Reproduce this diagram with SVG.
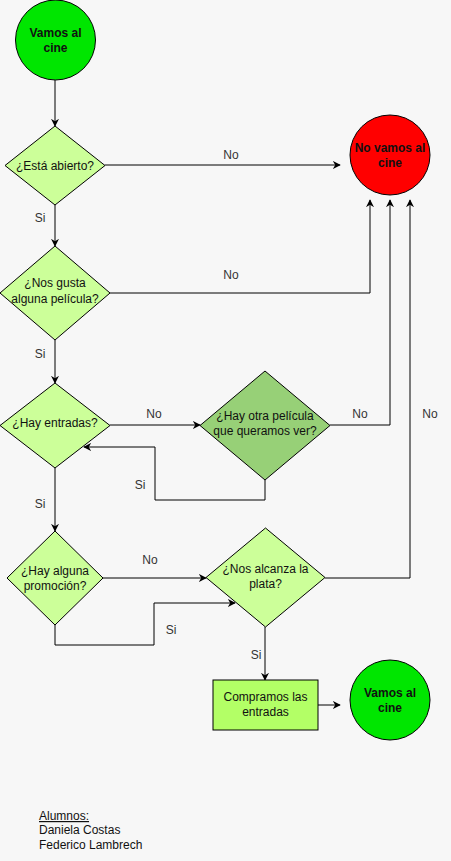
<svg xmlns="http://www.w3.org/2000/svg" width="451" height="861" viewBox="0 0 451 861">
  <style>
    .node { stroke: #000; stroke-width: 1; }
    .t { font-family: "Liberation Sans", Arial, sans-serif; font-size: 12px; fill: #111; text-anchor: middle; }
    .b { font-weight: bold; }
    .lbl { font-family: "Liberation Sans", Arial, sans-serif; font-size: 12px; fill: #333; text-anchor: middle; }
    .edge { fill: none; stroke: #000; stroke-width: 1; marker-end: url(#arrow); }
    .plain { fill: none; stroke: #000; stroke-width: 1; }
    .note { font-family: "Liberation Sans", Arial, sans-serif; font-size: 12px; fill: #111; }
  </style>
  <defs>
    <marker id="arrow" viewBox="0 0 10 10" refX="9" refY="5" markerWidth="8" markerHeight="8" markerUnits="userSpaceOnUse" orient="auto">
      <path d="M0,0 L10,5 L0,10 L3,5 Z" fill="#000"/>
    </marker>
  </defs>

  <rect width="451" height="861" fill="#f7f7f7"/>

  <g id="connectors">
    <path class="edge" d="M55,80 L55,126"/>
    <path class="edge" d="M105,165 L340,165"/>
    <text class="lbl" x="231" y="159">No</text>
    <path class="edge" d="M55,205 L55,246"/>
    <text class="lbl" x="40" y="222">Si</text>
    <path class="edge" d="M110,293 L370,293 L370,200"/>
    <text class="lbl" x="231" y="279">No</text>
    <path class="edge" d="M55,340 L55,383"/>
    <text class="lbl" x="40" y="358">Si</text>
    <path class="edge" d="M110,425 L200,425"/>
    <text class="lbl" x="154" y="418">No</text>
    <path class="edge" d="M330,425 L390,425 L390,200"/>
    <text class="lbl" x="360" y="418">No</text>
    <path class="edge" d="M265,480 L265,500 L155,500 L155,447 L84,447"/>
    <text class="lbl" x="140" y="489">Si</text>
    <path class="edge" d="M55,468 L55,531"/>
    <text class="lbl" x="40" y="508">Si</text>
    <path class="edge" d="M103,578 L206,578"/>
    <text class="lbl" x="150" y="564">No</text>
    <path class="edge" d="M55,625 L55,645 L154,645 L154,603 L235,603"/>
    <text class="lbl" x="171" y="634">Si</text>
    <path class="edge" d="M325,578 L410,578 L410,200"/>
    <text class="lbl" x="430" y="418">No</text>
    <path class="edge" d="M265,627 L265,680"/>
    <text class="lbl" x="256" y="659">Si</text>
    <path class="edge" d="M318,705 L340,705"/>
  </g>

  <g id="start">
    <circle class="node" cx="55.5" cy="40" r="40" fill="#00e600"/>
    <text class="t b" x="55.5" y="37">Vamos al</text>
    <text class="t b" x="55.5" y="52">cine</text>
  </g>

  <g id="abierto">
    <polygon class="node" points="55,126 105,165.5 55,205 5,165.5" fill="#ccff99"/>
    <text class="t" x="55" y="169.5">¿Está abierto?</text>
  </g>

  <g id="no-vamos">
    <circle class="node" cx="390" cy="155" r="40" fill="#ff0000"/>
    <text class="t b" x="390" y="152">No vamos al</text>
    <text class="t b" x="390" y="167">cine</text>
  </g>

  <g id="gusta">
    <polygon class="node" points="55,246 110,293 55,340 0,293" fill="#ccff99"/>
    <text class="t" x="55" y="287">¿Nos gusta</text>
    <text class="t" x="55" y="303">alguna película?</text>
  </g>

  <g id="entradas">
    <polygon class="node" points="55,383 110,425.5 55,468 0,425.5" fill="#ccff99"/>
    <text class="t" x="55" y="427">¿Hay entradas?</text>
  </g>

  <g id="otra-pelicula">
    <polygon class="node" points="265,371 330,425.5 265,480 200,425.5" fill="#97d077"/>
    <text class="t" x="265" y="420">¿Hay otra película</text>
    <text class="t" x="265" y="435">que queramos ver?</text>
  </g>

  <g id="promocion">
    <polygon class="node" points="55,531 103,578 55,625 7,578" fill="#ccff99"/>
    <text class="t" x="55" y="575">¿Hay alguna</text>
    <text class="t" x="55" y="590">promoción?</text>
  </g>

  <g id="plata">
    <polygon class="node" points="265.5,528 325,577.5 265.5,627 206,577.5" fill="#ccff99"/>
    <text class="t" x="265.5" y="573">¿Nos alcanza la</text>
    <text class="t" x="265.5" y="588">plata?</text>
  </g>

  <g id="compramos">
    <rect class="node" x="213" y="680" width="105" height="50" fill="#b3ff66"/>
    <text class="t" x="265.5" y="701">Compramos las</text>
    <text class="t" x="265.5" y="716">entradas</text>
  </g>

  <g id="end">
    <circle class="node" cx="390" cy="700" r="40" fill="#00e600"/>
    <text class="t b" x="390" y="697">Vamos al</text>
    <text class="t b" x="390" y="712">cine</text>
  </g>

  <g id="alumnos">
    <text class="note" x="39" y="820" text-decoration="underline">Alumnos:</text>
    <text class="note" x="39" y="834">Daniela Costas</text>
    <text class="note" x="39" y="849">Federico Lambrech</text>
  </g>
</svg>
